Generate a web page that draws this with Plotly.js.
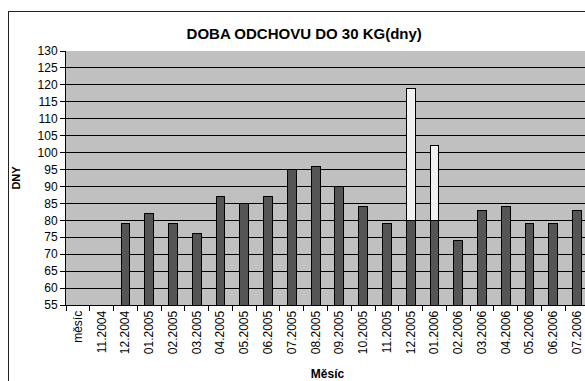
<!DOCTYPE html>
<html>
<head>
<meta charset="utf-8">
<script src="https://cdn.plot.ly/plotly-3.0.1.min.js"></script>
<style>
html,body{margin:0;padding:0;width:585px;height:381px;overflow:hidden;background:#fff;}
#frame{position:absolute;left:8px;top:11px;width:620px;height:420px;border:1.5px solid #222;box-sizing:border-box;}
#chart{position:absolute;left:0;top:0;width:600px;height:400px;}
</style>
</head>
<body>
<div id="frame"></div>
<div id="chart"></div>
<script>
const categories = ['měsíc','11.2004','12.2004','01.2005','02.2005','03.2005','04.2005','05.2005','06.2005','07.2005','08.2005','09.2005','10.2005','11.2005','12.2005','01.2006','02.2006','03.2006','04.2006','05.2006','06.2006','07.2006'];
const darkValues = [null,null,79,82,79,76,87,85,87,95,96,90,84,79,80,80,74,83,84,79,79,83];
const whiteValues = [null,null,null,null,null,null,null,null,null,null,null,null,null,null,39,22,null,null,null,null,null,null];
const yTicks = [55,60,65,70,75,80,85,90,95,100,105,110,115,120,125,130];

const font = "'Liberation Sans', Arial, sans-serif";
const traces = [
  {type:'bar', x:categories, y:darkValues, width:0.37,
   marker:{color:'#555555', line:{color:'#000', width:1}}, hoverinfo:'skip'},
  {type:'bar', x:categories, y:whiteValues, width:0.37,
   marker:{color:'#f2f2f2', line:{color:'#000', width:1}}, hoverinfo:'skip'}
];
const layout = {
  width:600, height:400,
  margin:{l:66, r:11, t:51, b:95},
  paper_bgcolor:'rgba(0,0,0,0)',
  plot_bgcolor:'#c0c0c0',
  barmode:'stack',
  showlegend:false,
  font:{family:font, color:'#000', size:12},
  title:{text:'<b>DOBA ODCHOVU DO 30 KG(dny)</b>', font:{family:font, size:15, color:'#000'},
         x:0.507, xref:'container', xanchor:'center', y:0.915, yref:'container', yanchor:'middle'},
  xaxis:{type:'category', tickangle:-90, ticks:'outside', ticklen:5, tickcolor:'#000',
         tickson:'boundaries', showline:true, linecolor:'#000', linewidth:1, showgrid:false,
         tickfont:{family:font, size:12, color:'#000'},
         title:{text:'<b>Měsíc</b>', font:{family:font, size:12, color:'#000'}, standoff:16}},
  yaxis:{range:[55,130], tickvals:yTicks, ticks:'outside', ticklen:5, tickcolor:'#000',
         showline:true, linecolor:'#000', linewidth:1, showgrid:true, gridcolor:'#000', gridwidth:1,
         zeroline:false,
         tickfont:{family:font, size:12, color:'#000'},
         title:{text:'<b>DNY</b>', font:{family:font, size:11, color:'#000'}, standoff:14}}
};
Plotly.newPlot('chart', traces, layout, {staticPlot:true, displayModeBar:false});
</script>
</body>
</html>
